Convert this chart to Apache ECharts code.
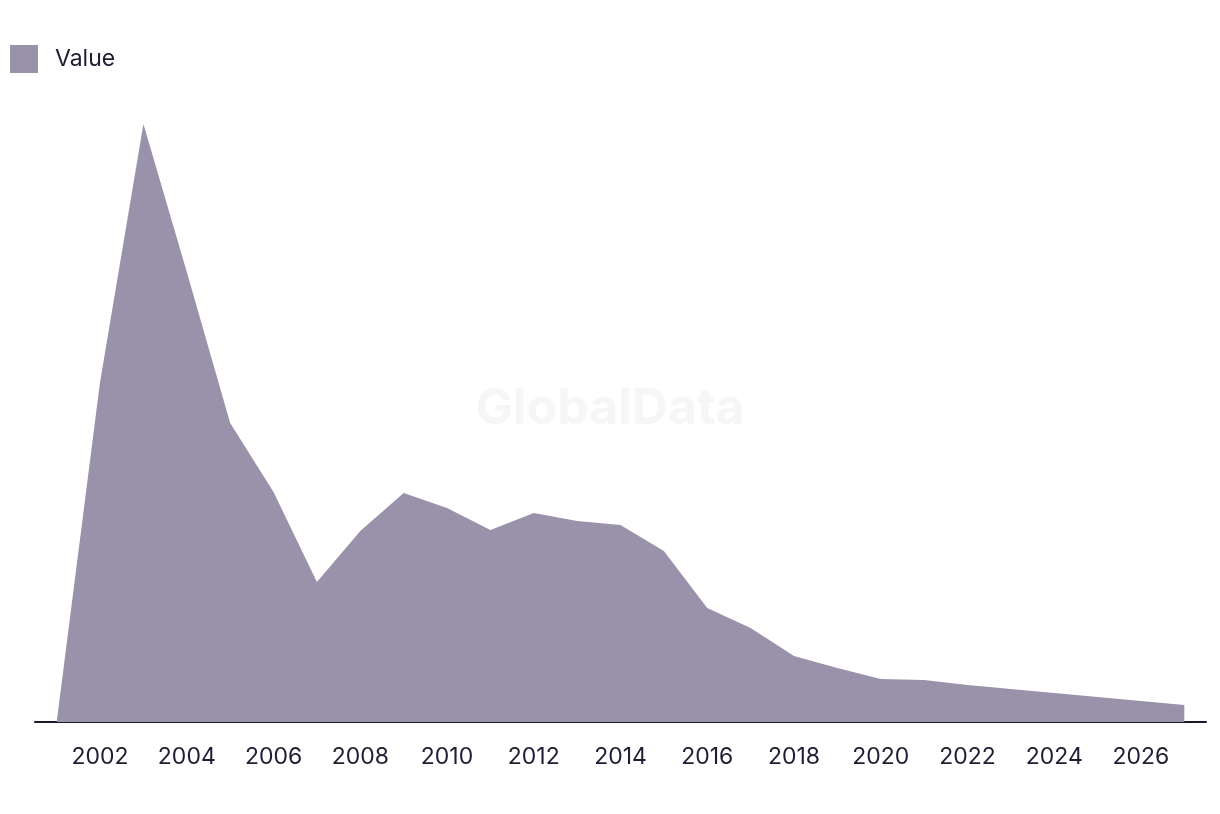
<!DOCTYPE html>
<html><head><meta charset="utf-8">
<script src="https://cdn.jsdelivr.net/npm/echarts@6/dist/echarts.min.js"></script>
<style>html,body{margin:0;padding:0;background:#fff}#c{width:1220px;height:814px}</style>
</head><body><div id="c"></div>
<script>
const years = ['2001','2002','2003','2004','2005','2006','2007','2008','2009','2010','2011','2012','2013','2014','2015','2016','2017','2018','2019','2020','2021','2022','2023','2024','2025','2026','2027'];
const values = [0, 34.0, 59.8, 45.0, 29.9, 23.0, 14.0, 19.1, 22.9, 21.4, 19.2, 20.9, 20.1, 19.7, 17.1, 11.4, 9.4, 6.6, 5.4, 4.3, 4.2, 3.7, 3.3, 2.9, 2.5, 2.1, 1.7];
const seriesName = 'Value';

const chart = echarts.init(document.getElementById('c'), null, {renderer:'canvas'});
chart.setOption({
  animation:false,
  graphic:[{type:'text', left:'center', top:384, z:0, silent:true,
    style:{text:'GlobalData', font:'bold 50px Inter, "Liberation Sans", Arial, sans-serif', fill:'#f6f6f6'}}],
  legend:{show:true, left:10, top:45, padding:0, itemWidth:28, itemHeight:28, itemGap:10,
    icon:'rect', data:[seriesName],
    textStyle:{fontSize:23, color:'#1f1d33', fontFamily:'Inter', padding:[0,0,0,12]}},
  grid:{left:35, right:14, top:122, bottom:92, containLabel:false},
  xAxis:{type:'category', data:years, boundaryGap:true,
    axisLine:{show:true, lineStyle:{color:'#1a1a2e', width:2}},
    axisTick:{show:false},
    axisLabel:{interval:(i)=>i%2===1, fontSize:23, color:'#1f1d33', fontFamily:'Inter', margin:24}},
  yAxis:{type:'value', min:0, max:60, show:false, splitLine:{show:false}},
  series:[{name:seriesName, type:'line', data:values, symbol:'none',
    lineStyle:{width:0, color:'#9a91aa'}, itemStyle:{color:'#9a91aa'},
    areaStyle:{color:'#9a91aa', opacity:1}, z:2}]
});
</script></body></html>
